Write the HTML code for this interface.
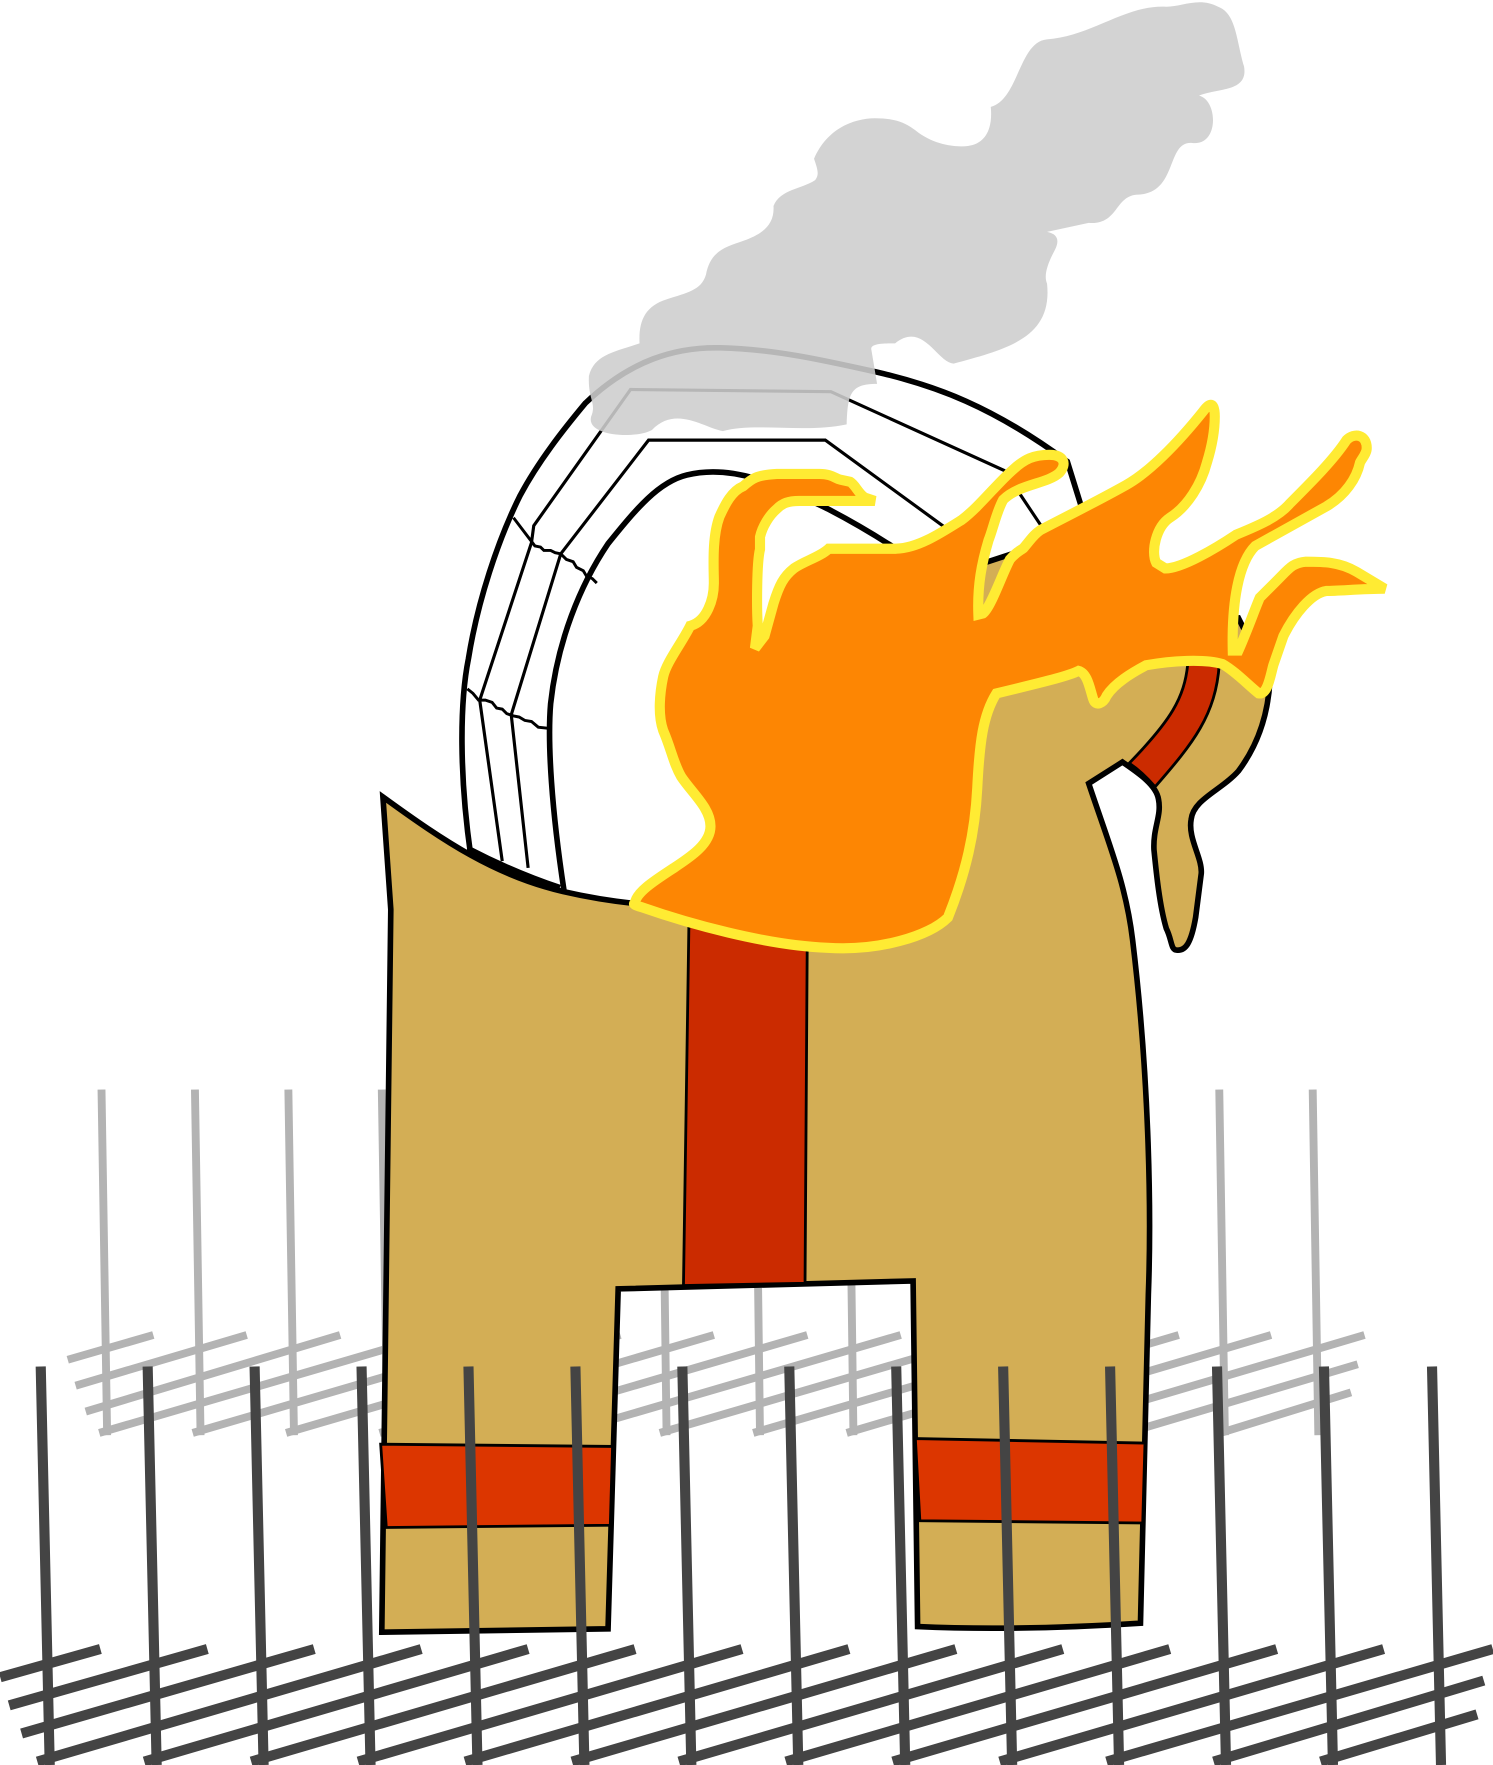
<!DOCTYPE html>
<html><head><meta charset="utf-8"><style>html,body{margin:0;padding:0;background:#fff}svg{display:block}</style></head><body>
<svg xmlns="http://www.w3.org/2000/svg" width="1493" height="1765" viewBox="0 0 1326 1568">
<!-- back fence -->
<g stroke="#b3b3b3" stroke-width="7" fill="none">
<path d="M90 968L95 1275M173 968L178 1275M256 968L261 1275M339 968L344 1275M422 968L427 1275M505 968L510 1275M588 968L592 1275M671 968L675 1275M754 968L758 1275M837 968L841 1275M920 968L924 1275M1003 968L1007 1275M1083 968L1088 1275M1166 968L1171 1275"/>
<path d="M60 1208L136 1186M67 1231L219 1186M76 1254L302 1186M88 1273L385 1186M171 1273L468 1186M254 1273L551 1186M337 1273L634 1186M420 1273L717 1186M503 1273L800 1186M586 1273L883 1186M669 1273L966 1186M752 1273L1047 1186M835 1273L1129 1186M918 1273L1212 1186M1001 1273L1206 1212M1084 1273L1200 1237"/>
</g>
<!-- horns -->
<g fill="none" stroke="#000">
<path stroke-width="5" d="M418 760C408 690 408 625 416 585C424 535 442 480 462 440C478 410 500 382 520 358C560 320 600 308 640 309C690 310 740 322 785 332C830 343 880 360 948 410L962 455"/>
<path stroke-width="5" d="M501 792C490 720 486 660 489 625C495 570 515 520 540 483C565 452 585 428 610 422C650 412 690 430 735 452C760 465 775 474 795 487"/>
<path stroke-width="2.8" d="M446 765L426 622L472 482L474 467L560 346L738 348L892 418L928 472"/>
<path stroke-width="2.8" d="M469 771L454 635L498 492L576 391L733 391L840 469"/>
<path stroke-width="2.6" d="M456 460L472 481L475 485L480 486L483 489L489 489L493 491L498 492L503 497L509 499L512 504L518 507L521 512L526 514L530 518"/>
<path stroke-width="2.6" d="M415 612L420 616L425 622L431 622L437 624L441 629L446 630L450 634L456 636L461 637L466 640L472 641L478 646L487 647"/>
</g>
<!-- body -->
<path fill="#d3ae55" stroke="#000" stroke-width="5" d="M340 708C395 748 440 778 500 792C530 799 560 803 590 805L700 650L850 508L905 490L930 510L1090 550L1100 549L1128 605C1126 640 1115 665 1100 685C1085 702 1060 710 1058 728C1055 745 1068 762 1067 776L1062 815C1058 838 1053 845 1045 844C1040 844 1041 835 1036 825C1030 805 1027 775 1025 755C1024 735 1032 725 1029 710C1027 697 1010 686 997 677L967 696C985 750 1000 785 1006 835C1020 950 1023 1070 1020 1150L1013 1442C950 1446 880 1448 815 1445L811 1138L549 1145L540 1447L339 1450L347 808Z"/>
<path fill="none" stroke="#000" stroke-width="6" d="M415 754C440 767 470 780 497 789"/>
<!-- bands -->
<path fill="#cb2b00" stroke="#000" stroke-width="2.5" d="M612 810L607 1142L715 1140L717 830Z"/>
<path fill="#dc3600" stroke="#000" stroke-width="2.5" d="M338 1283L544 1285L542 1355L343 1357Z"/>
<path fill="#dc3600" stroke="#000" stroke-width="2.5" d="M813 1278L1017 1282L1015 1353L817 1351Z"/>
<path fill="#cb2b00" stroke="#000" stroke-width="2.5" d="M1055 590C1052 620 1040 640 1003 678C1012 684 1020 692 1026 699C1060 660 1080 635 1083 590Z"/>
<!-- flame -->
<path fill="#fd8603" stroke="#ffeb33" stroke-width="9" stroke-linejoin="miter" stroke-miterlimit="2" d="M564 802C565 792 585 780 600 770C612 762 631 750 631 734C631 718 615 705 605 690C598 678 596 665 589 649C584 635 586 615 589 601C592 588 605 572 613 556C628 552 634 532 634 518C634 505 632 478 639 459C644 448 650 436 660 432C668 425 672 422 690 421L728 421C738 421 742 425 746 426L755 428C760 431 762 438 768 442L777 445L710 445C700 445 695 447 690 452C683 458 677 468 675 477L675 488C672 500 672 540 673 556L670.5 576L679 565L687 536C692 520 696 512 705 505C715 498 728 495 736 487.5L796 487.5C815 487 835 474 854 462C870 450 885 430 900 417C910 408 918 404 932 404C945 404 948 412 941 420C930 430 905 430 891 444C885 455 882 470 878 480C872 500 868 520 869 546L873 545C880 540 890 510 897 497C903 490 905 490 909 487C915 480 918 475 924 471C945 460 975 445 1000 431C1020 420 1045 395 1069 365C1074 358 1079 356 1079 370C1079 385 1076 398 1072 411C1067 430 1055 450 1039 460C1027 468 1022 490 1027 500L1035 505C1050 505 1080 487 1098 475C1115 468 1135 460 1146 447C1165 428 1185 408 1196 391C1203 384 1214 386 1214 398C1214 403 1210 407 1208 411C1205 425 1195 440 1178 450L1115 485C1100 500 1094 535 1095 578L1100 578C1108 560 1115 540 1119 531C1125 525 1130 520 1134 516C1145 505 1148 500 1160 499C1175 499 1190 499 1205 508L1230 523C1210 523 1190 525 1178 525C1165 527 1150 545 1140 565L1131 591C1128 602 1126 617 1118 616C1108 608 1098 597 1086 590C1070 585 1040 587 1018 591C1005 598 990 607 983 618C980 625 973 628 971 621C968 612 966 598 958 596C950 600 935 604 885 616C873 635 870 660 868 700C866 740 858 775 842 815C825 832 780 845 735 842C680 840 610 820 570 806C563 804 562 803 564 802Z"/>
<!-- smoke -->
<path fill="#cdcdcd" fill-opacity=".886" d="M568 305C567 285 573 272 592 266C610 260 623 258 627 244C631 222 646 219 660 214C677 208 688 200 687 183C693 168 712 168 724 160C728 155 726 150 723 141C735 113 760 105 777 105C800 105 808 112 816 118C830 128 845 130 855 130C875 130 882 115 880 95C905 88 905 37 930 35C970 32 1000 4 1036 6C1050 6 1065 -3 1082 6C1098 12 1098 35 1105 59C1109 82 1082 78 1065 85C1082 89 1083 130 1059 127C1035 125 1047 173 1009 173C990 175 993 200 967 198L930 206C940 208 941 214 937 222C930 235 927 245 930 252C935 300 895 310 847 323C832 322 820 285 795 305C785 305 772 305 774 311L779 341C755 341 753 350 752 377C715 385 670 375 642 383C625 380 600 360 579 382C565 390 520 388 525 370C530 358 522 355 523 334C528 315 545 313 568 305Z"/>
<!-- front fence -->
<g stroke="#444" stroke-width="9" fill="none">
<path d="M36 1214L44 1568M131 1214L139 1568M226 1214L234 1568M321 1214L329 1568M416 1214L424 1568M511 1214L519 1568M606 1214L614 1568M701 1214L709 1568M796 1214L804 1568M891 1214L899 1568M986 1214L994 1568M1081 1214L1089 1568M1176 1214L1184 1568M1272 1214L1280 1568"/>
<path d="M0 1490L89 1465M8 1515L184 1465M19 1540L279 1465M33 1565L374 1465M128 1565L469 1465M223 1565L564 1465M318 1565L659 1465M413 1565L754 1465M508 1565L849 1465M603 1565L944 1465M698 1565L1039 1465M793 1565L1134 1465M888 1565L1229 1465M983 1565L1326 1465M1078 1565L1318 1493M1173 1565L1312 1523"/>
</g>
</svg>
</body></html>
